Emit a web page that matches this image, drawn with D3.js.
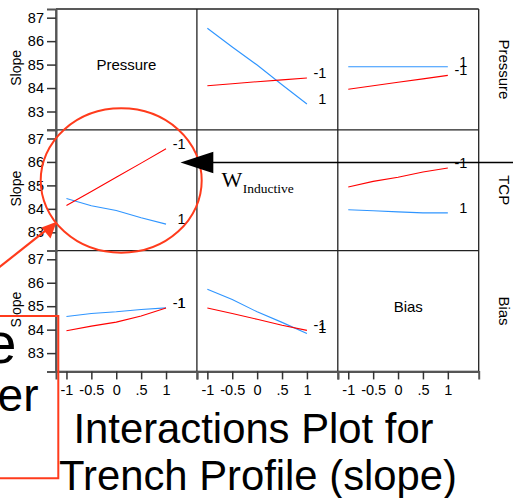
<!DOCTYPE html>
<html>
<head>
<meta charset="utf-8">
<script src="https://cdn.jsdelivr.net/npm/d3@7"></script>
<style>
  html, body { margin: 0; padding: 0; background: #fff; }
  svg { display: block; font-family: "Liberation Sans", Arial, sans-serif; }
</style>
</head>
<body>
<svg id="chart" width="513" height="498"></svg>
<script>
// Factors of the interaction matrix (rows and columns share the same order)
const factors = ["Pressure", "TCP", "Bias"];
// Coded levels along each panel's x axis
const xLevels = [-1, -0.5, 0, 0.5, 1];
const xTickLabels = ["-1", "-0.5", "0", ".5", "1"];
const yTicks = [83, 84, 85, 86, 87];

// Mean slope, row factor held at -1 (red) and +1 (blue), column factor on x
const pressureByTcpLow  = [84.10, 84.18, 84.27, 84.35, 84.43];
const pressureByTcpHigh = [86.55, 85.75, 84.98, 84.14, 83.32];
const pressureByBiasLow  = [83.95, 84.10, 84.25, 84.39, 84.54];
const pressureByBiasHigh = [84.91, 84.91, 84.91, 84.91, 84.91];
const tcpByPressureLow  = [84.14, 84.74, 85.35, 85.95, 86.56];
const tcpByPressureHigh = [84.44, 84.13, 83.93, 83.62, 83.35];
const tcpByBiasLow  = [84.93, 85.17, 85.35, 85.57, 85.74];
const tcpByBiasHigh = [83.96, 83.92, 83.87, 83.83, 83.83];
const biasByPressureLow  = [83.95, 84.15, 84.32, 84.58, 84.92];
const biasByPressureHigh = [84.56, 84.69, 84.76, 84.86, 84.93];
const biasByTcpLow  = [84.92, 84.69, 84.44, 84.19, 83.97];
const biasByTcpHigh = [85.72, 85.29, 84.76, 84.31, 83.84];

const cells = [
  { row: 0, col: 1, low: pressureByTcpLow,   high: pressureByTcpHigh },
  { row: 0, col: 2, low: pressureByBiasLow,  high: pressureByBiasHigh },
  { row: 1, col: 0, low: tcpByPressureLow,   high: tcpByPressureHigh },
  { row: 1, col: 2, low: tcpByBiasLow,       high: tcpByBiasHigh },
  { row: 2, col: 0, low: biasByPressureLow,  high: biasByPressureHigh },
  { row: 2, col: 1, low: biasByTcpLow,       high: biasByTcpHigh }
];

const colors = { low: "#ff0000", high: "#2f95ff" };
const accent = "#ff3b1c";

const svg = d3.select("#chart");
const gridLeft = 56, gridTop = 9, cellW = 140.9, cellH = 120.8;
const n = factors.length;

const x = d3.scaleLinear().domain([-1.21, 1.62]).range([0, cellW]);
const y = d3.scaleLinear().domain([82.22, 87.37]).range([cellH, 0]);

const grid = svg.append("g").attr("transform", `translate(${gridLeft},${gridTop})`);

// panel contents
cells.forEach(c => {
  const g = grid.append("g")
    .attr("transform", `translate(${c.col * cellW},${c.row * cellH})`);
  const line = d3.line().x((d, i) => x(xLevels[i])).y(d => y(d));
  [["high", c.high, "1"], ["low", c.low, "-1"]].forEach(([key, vals, lab]) => {
    g.append("path").attr("d", line(vals))
      .attr("fill", "none").attr("stroke", colors[key]).attr("stroke-width", 1.1);
    g.append("text")
      .attr("x", x(xLevels[xLevels.length - 1]) + 19.5)
      .attr("y", y(vals[vals.length - 1]))
      .attr("text-anchor", "end")
      .attr("font-size", 14.5)
      .text(lab);
  });
});

// diagonal factor names
[[0, "Pressure"], [2, "Bias"]].forEach(([i, name]) => {
  grid.append("text")
    .attr("x", i * cellW + cellW / 2)
    .attr("y", i * cellH + cellH / 2 + 0.5)
    .attr("text-anchor", "middle")
    .attr("font-size", 15)
    .text(name);
});

// grid frame
const frame = grid.append("g").attr("stroke", "#222").attr("stroke-width", 1.3);
for (let i = 0; i <= n; i++) {
  frame.append("line").attr("x1", i * cellW).attr("x2", i * cellW)
    .attr("y1", 0).attr("y2", n * cellH);
  frame.append("line").attr("y1", i * cellH).attr("y2", i * cellH)
    .attr("x1", 0).attr("x2", n * cellW);
}

// left y axes, one per row
for (let r = 0; r < n; r++) {
  const ax = grid.append("g")
    .attr("transform", `translate(0,${r * cellH})`)
    .call(d3.axisLeft(y).tickValues(yTicks).tickSize(9).tickPadding(3).tickFormat(d3.format("d")));
  ax.select(".domain").attr("stroke", "#555").attr("stroke-width", 2);
  ax.selectAll(".tick line").attr("stroke", "#333").attr("stroke-width", 1.5);
  ax.selectAll(".tick text").attr("font-size", 14.5).attr("font-family", "Liberation Sans, Arial, sans-serif").attr("fill", "#000");
  svg.append("text")
    .attr("transform", `translate(21,${gridTop + r * cellH + cellH / 2 - 1.5}) rotate(-90)`)
    .attr("text-anchor", "middle").attr("font-size", 14).text("Slope");
  svg.append("text")
    .attr("transform", `translate(499,${gridTop + r * cellH + cellH / 2}) rotate(90)`)
    .attr("text-anchor", "middle").attr("font-size", 15).text(factors[r]);
}

// bottom x axes, one per column
for (let c = 0; c < n; c++) {
  const ax = grid.append("g")
    .attr("transform", `translate(${c * cellW},${n * cellH})`)
    .call(d3.axisBottom(x).tickValues(xLevels).tickSize(8).tickPadding(5)
      .tickFormat((d, i) => xTickLabels[i]));
  ax.select(".domain").attr("stroke", "#555").attr("stroke-width", 2);
  ax.selectAll(".tick line").attr("stroke", "#333").attr("stroke-width", 1.5);
  ax.selectAll(".tick text").attr("font-size", 14.5).attr("font-family", "Liberation Sans, Arial, sans-serif").attr("fill", "#000");
}

// highlight ellipse around the Pressure x TCP interaction
svg.append("ellipse")
  .attr("cx", 121.2).attr("cy", 180.5).attr("rx", 80.5).attr("ry", 72.2)
  .attr("fill", "none").attr("stroke", accent).attr("stroke-width", 2);

// pointer arrow into the ellipse
svg.append("line").attr("x1", -2).attr("y1", 268.3).attr("x2", 48).attr("y2", 228.6)
  .attr("stroke", accent).attr("stroke-width", 2.2);
svg.append("path").attr("d", "M56.7,221.7 L41.5,227.5 L50.5,238.5 Z").attr("fill", accent);

// callout box with text
svg.append("path").attr("d", "M-5,316 L58.3,316 L58.3,478.3 L-5,478.3")
  .attr("fill", "none").attr("stroke", accent).attr("stroke-width", 2);
svg.append("text").attr("x", 16.5).attr("y", 362.5).attr("text-anchor", "end")
  .attr("font-size", 57).text("Pressure");
svg.append("text").attr("x", 38.5).attr("y", 410.5).attr("text-anchor", "end")
  .attr("font-size", 46).text("Power");

// black arrow labelled W_Inductive
svg.append("line").attr("x1", 212).attr("y1", 162.5).attr("x2", 513).attr("y2", 162.5)
  .attr("stroke", "#000").attr("stroke-width", 1.3);
svg.append("path").attr("d", "M180.5,162.5 L213.3,151.7 L213.3,173.3 Z").attr("fill", "#000");
const w = svg.append("text").attr("x", 221.5).attr("y", 186.7)
  .attr("font-family", "Liberation Serif, Times New Roman, serif");
w.append("tspan").attr("font-size", 22).text("W");
w.append("tspan").attr("font-size", 13.5).attr("dy", 6.3).attr("dx", 0.5).text("Inductive");

// title
svg.append("text").attr("x", 253.5).attr("y", 443).attr("text-anchor", "middle")
  .attr("font-size", 41.8).text("Interactions Plot for");
svg.append("text").attr("x", 258).attr("y", 490).attr("text-anchor", "middle")
  .attr("font-size", 41.8).text("Trench Profile (slope)");
</script>
</body>
</html>
